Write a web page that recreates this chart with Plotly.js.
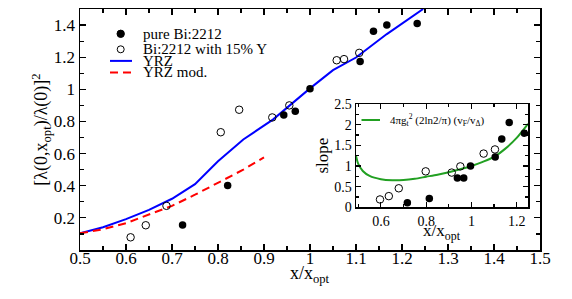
<!DOCTYPE html>
<html>
<head>
<meta charset="utf-8">
<script src="https://cdn.plot.ly/plotly-3.0.1.min.js"></script>
<style>
html,body{margin:0;padding:0;background:#fff;}
#chart{width:572px;height:299px;}
</style>
</head>
<body>
<div id="chart"></div>
<script>
// ---- main panel data ----
const pureX = [0.723, 0.821, 0.943, 0.968, 1.000, 1.109, 1.138, 1.167, 1.233];
const pureY = [0.156, 0.402, 0.840, 0.864, 1.004, 1.173, 1.362, 1.400, 1.410];
const yX = [0.610, 0.643, 0.688, 0.806, 0.846, 0.918, 0.955, 1.058, 1.074, 1.107];
const yY = [0.079, 0.154, 0.275, 0.733, 0.873, 0.825, 0.900, 1.181, 1.188, 1.227];
const yrzX = [0.50, 0.55, 0.60, 0.65, 0.70, 0.75, 0.80, 0.855, 0.92, 1.00, 1.05, 1.10, 1.167, 1.246];
const yrzY = [0.104, 0.142, 0.192, 0.250, 0.319, 0.410, 0.552, 0.688, 0.813, 1.006, 1.119, 1.198, 1.344, 1.500];
const modX = [0.50, 0.55, 0.60, 0.65, 0.70, 0.75, 0.80, 0.855, 0.90];
const modY = [0.104, 0.129, 0.167, 0.219, 0.275, 0.344, 0.417, 0.500, 0.577];

// ---- inset data ----
const inPureX = [0.717, 0.814, 0.938, 0.966, 0.996, 1.105, 1.134, 1.167, 1.234];
const inPureY = [0.11, 0.21, 0.71, 0.71, 1.00, 1.22, 1.65, 2.05, 1.79];
const inYX = [0.596, 0.635, 0.679, 0.798, 0.913, 0.951, 1.054, 1.104];
const inYY = [0.19, 0.27, 0.46, 0.87, 0.84, 0.99, 1.30, 1.40];
const greenX = [0.49, 0.50, 0.52, 0.55, 0.60, 0.65, 0.70, 0.75, 0.80, 0.85, 0.90, 0.95, 1.00, 1.05, 1.10, 1.15, 1.20, 1.25];
const greenY = [1.25, 1.05, 0.88, 0.76, 0.68, 0.655, 0.66, 0.69, 0.74, 0.79, 0.85, 0.92, 1.00, 1.10, 1.22, 1.42, 1.68, 2.02];

// ---- tick labels ----
const mainXTicks = [0.5, 0.6, 0.7, 0.8, 0.9, 1.0, 1.1, 1.2, 1.3, 1.4, 1.5];
const mainXText = ["0.5", "0.6", "0.7", "0.8", "0.9", "1", "1.1", "1.2", "1.3", "1.4", "1.5"];
const mainYTicks = [0.2, 0.4, 0.6, 0.8, 1.0, 1.2, 1.4];
const mainYText = ["0.2", "0.4", "0.6", "0.8", "1", "1.2", "1.4"];
const inXTicks = [0.6, 0.8, 1.0, 1.2];
const inXText = ["0.6", "0.8", "1", "1.2"];
const inYTicks = [0, 0.5, 1, 1.5, 2, 2.5];
const inYText = ["0", "0.5", "1", "1.5", "2", "2.5"];

const legendNames = ["pure Bi:2212", "Bi:2212 with 15% Y", "YRZ", "YRZ mod."];
const insetLegend = "4πg<sub>t</sub><sup>2</sup> (2ln2/π) (v<sub>F</sub>/v<sub>Δ</sub>)";
const xTitle = "x/x<sub>opt</sub>";

const FONT = "Liberation Serif, Times New Roman, serif";
const BLUE = "rgb(0,0,255)";
const RED = "rgb(255,0,0)";
const GREEN = "rgb(34,160,34)";

const traces = [
  {x: yrzX, y: yrzY, mode: "lines", line: {color: BLUE, width: 2}, xaxis: "x", yaxis: "y"},
  {x: modX, y: modY, mode: "lines", line: {color: RED, width: 2, dash: "8px,5px"}, xaxis: "x", yaxis: "y"},
  {x: pureX, y: pureY, mode: "markers", marker: {symbol: "circle", size: 7.5, color: "black"}, xaxis: "x", yaxis: "y"},
  {x: yX, y: yY, mode: "markers", marker: {symbol: "circle-open", size: 7.5, color: "black", line: {width: 1}}, xaxis: "x", yaxis: "y"},
  {x: greenX, y: greenY, mode: "lines", line: {color: GREEN, width: 2, shape: "spline", smoothing: 0.8}, xaxis: "x2", yaxis: "y2"},
  {x: inPureX, y: inPureY, mode: "markers", marker: {symbol: "circle", size: 7.5, color: "black"}, xaxis: "x2", yaxis: "y2"},
  {x: inYX, y: inYY, mode: "markers", marker: {symbol: "circle-open", size: 7.5, color: "black", line: {width: 1}}, xaxis: "x2", yaxis: "y2"}
];

function axisCommon(extra) {
  return Object.assign({
    showgrid: false, zeroline: false, showline: true, linecolor: "black", linewidth: 1.5,
    mirror: "allticks", ticks: "inside", tickcolor: "black", tickwidth: 1.2,
    tickmode: "array"
  }, extra);
}

// custom legend (paper coordinates)
const px = v => (v - 80) / 460;
const py = v => (250 - v) / 241;
const rows = [py(33.8), py(49.3), py(60.9), py(72.4)];

const shapes = [
  {type: "circle", xref: "paper", yref: "paper", xsizemode: "pixel", ysizemode: "pixel",
   xanchor: px(120.7), yanchor: rows[0], x0: -3.7, x1: 3.7, y0: -3.7, y1: 3.7,
   fillcolor: "black", line: {color: "black", width: 1}},
  {type: "circle", xref: "paper", yref: "paper", xsizemode: "pixel", ysizemode: "pixel",
   xanchor: px(120.7), yanchor: rows[1], x0: -3.5, x1: 3.5, y0: -3.5, y1: 3.5,
   fillcolor: "rgba(0,0,0,0)", line: {color: "black", width: 1}},
  {type: "line", xref: "paper", yref: "paper", x0: px(110), x1: px(132), y0: rows[2], y1: rows[2],
   line: {color: BLUE, width: 2}},
  {type: "line", xref: "paper", yref: "paper", x0: px(110), x1: px(132), y0: rows[3], y1: rows[3],
   line: {color: RED, width: 2, dash: "8px,5px"}},
  {type: "line", xref: "paper", yref: "paper", x0: px(361.5), x1: px(380), y0: py(120), y1: py(120),
   line: {color: GREEN, width: 2}}
];

const annotations = legendNames.map((t, i) => ({
  text: t, xref: "paper", yref: "paper", x: px(140.5), y: rows[i], xanchor: "left", yanchor: "middle",
  showarrow: false, font: {family: FONT, size: 15, color: "black"}
}));
annotations.push({
  text: insetLegend, xref: "paper", yref: "paper", x: px(387.5), y: py(119.5), xanchor: "left", yanchor: "middle",
  showarrow: false, font: {family: FONT, size: 11, color: "black"}
});
// axis titles for the x axes
annotations.push({
  text: xTitle, xref: "paper", yref: "paper", x: px(310), y: py(274), xanchor: "center", yanchor: "middle",
  showarrow: false, font: {family: FONT, size: 18, color: "black"}
});
annotations.push({
  text: xTitle, xref: "paper", yref: "paper", x: px(442), y: py(232), xanchor: "center", yanchor: "middle",
  showarrow: false, font: {family: FONT, size: 17, color: "black"}
});

const layout = {
  width: 572, height: 299,
  margin: {l: 80, r: 32, t: 9, b: 49, pad: 0},
  paper_bgcolor: "white", plot_bgcolor: "white",
  showlegend: false,
  font: {family: FONT, color: "black"},
  xaxis: axisCommon({
    domain: [0, 1], range: [0.5, 1.5], tickvals: mainXTicks, ticktext: mainXText, ticklen: 6,
    tickfont: {family: FONT, size: 17}, ticklabelstandoff: -8,
    minor: {dtick: 0.05, tick0: 0, ticks: "inside", ticklen: 4, tickcolor: "black", tickwidth: 1.2},
    anchor: "y"
  }),
  yaxis: axisCommon({
    domain: [0, 1], range: [0, 1.5], tickvals: mainYTicks, ticktext: mainYText, ticklen: 6,
    tickfont: {family: FONT, size: 17},
    minor: {dtick: 0.1, tick0: 0, ticks: "inside", ticklen: 4, tickcolor: "black", tickwidth: 1.2},
    title: {text: "[λ(0,x<sub>opt</sub>)/λ(0)]<sup>2</sup>", font: {family: FONT, size: 18}, standoff: 0},
    anchor: "x"
  }),
  xaxis2: axisCommon({
    domain: [px(356), px(528)], range: [0.49, 1.25], tickvals: inXTicks, ticktext: inXText, ticklen: 5,
    tickfont: {family: FONT, size: 14},
    minor: {dtick: 0.1, tick0: 0, ticks: "inside", ticklen: 3, tickcolor: "black", tickwidth: 1.2},
    anchor: "y2"
  }),
  yaxis2: axisCommon({
    domain: [py(207.3), py(104)], range: [0, 2.5], tickvals: inYTicks, ticktext: inYText, ticklen: 5,
    tickfont: {family: FONT, size: 14},
    minor: {dtick: 0.25, tick0: 0, ticks: "inside", ticklen: 3, tickcolor: "black", tickwidth: 1.2},
    title: {text: "slope", font: {family: FONT, size: 17}, standoff: 1},
    anchor: "x2"
  }),
  shapes: shapes,
  annotations: annotations
};

Plotly.newPlot("chart", traces, layout, {staticPlot: true, displayModeBar: false});
</script>
</body>
</html>
